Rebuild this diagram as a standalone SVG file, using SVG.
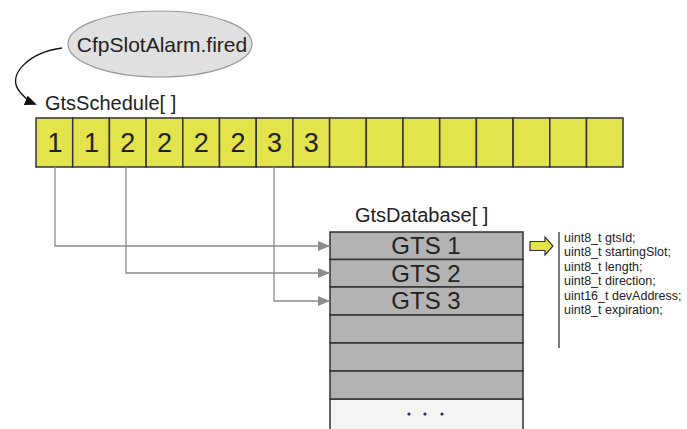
<svg xmlns="http://www.w3.org/2000/svg" width="687" height="429" viewBox="0 0 687 429">
  <defs>
    <marker id="grayHead" viewBox="0 0 12 10" refX="12" refY="5" markerWidth="12" markerHeight="10" markerUnits="userSpaceOnUse" orient="auto">
      <path d="M0,0 L12,5 L0,10 Z" fill="#8c8c8c"/>
    </marker>
    <marker id="blackHead" viewBox="0 0 12 10" refX="10" refY="5" markerWidth="12" markerHeight="10" markerUnits="userSpaceOnUse" orient="auto">
      <path d="M0,0 L12,5 L0,10 Z" fill="#111"/>
    </marker>
  </defs>
  <style>
    text { font-family: "Liberation Sans", Arial, sans-serif; fill: #222; }
    .label { font-size: 20px; }
    .cell { fill: #e3e34b; stroke: #333; stroke-width: 1.5; }
    .num { font-size: 27px; text-anchor: middle; }
    .row { fill: #b3b3b3; stroke: #333; stroke-width: 1.5; }
    .gts { font-size: 24px; text-anchor: middle; }
    .field { font-size: 12.5px; }
    .link { fill: none; stroke: #8c8c8c; stroke-width: 1.3; }
  </style>
  <rect width="687" height="429" fill="#fff"/>

  <!-- alarm event -->
  <g id="alarm">
    <ellipse cx="160" cy="44" rx="92" ry="33" fill="#e0e0e0" stroke="#999" stroke-width="1.2"/>
    <text x="162" y="52" font-size="21" text-anchor="middle">CfpSlotAlarm.fired</text>
  </g>

  <!-- schedule array -->
  <g id="gtsSchedule">
    <text class="label" x="45" y="110">GtsSchedule[ ]</text>
    <rect class="cell" x="36" y="118" width="36.7" height="49"/>
    <rect class="cell" x="72.7" y="118" width="36.7" height="49"/>
    <rect class="cell" x="109.4" y="118" width="36.7" height="49"/>
    <rect class="cell" x="146.1" y="118" width="36.7" height="49"/>
    <rect class="cell" x="182.8" y="118" width="36.7" height="49"/>
    <rect class="cell" x="219.5" y="118" width="36.7" height="49"/>
    <rect class="cell" x="256.2" y="118" width="36.7" height="49"/>
    <rect class="cell" x="292.9" y="118" width="36.7" height="49"/>
    <rect class="cell" x="329.6" y="118" width="36.7" height="49"/>
    <rect class="cell" x="366.3" y="118" width="36.7" height="49"/>
    <rect class="cell" x="403" y="118" width="36.7" height="49"/>
    <rect class="cell" x="439.7" y="118" width="36.7" height="49"/>
    <rect class="cell" x="476.4" y="118" width="36.7" height="49"/>
    <rect class="cell" x="513.1" y="118" width="36.7" height="49"/>
    <rect class="cell" x="549.8" y="118" width="36.7" height="49"/>
    <rect class="cell" x="586.5" y="118" width="36.5" height="49"/>
    <text class="num" x="55" y="152">1</text>
    <text class="num" x="91.5" y="152">1</text>
    <text class="num" x="127.8" y="152">2</text>
    <text class="num" x="164.5" y="152">2</text>
    <text class="num" x="201.2" y="152">2</text>
    <text class="num" x="237.9" y="152">2</text>
    <text class="num" x="274.6" y="152">3</text>
    <text class="num" x="311.3" y="152">3</text>
  </g>

  <!-- database table -->
  <g id="gtsDatabase">
    <text class="label" x="355" y="222">GtsDatabase[ ]</text>
    <rect x="330" y="399" width="193" height="32" fill="#f4f4f4" stroke="#333" stroke-width="1.5"/>
    <rect class="row" x="330" y="232" width="193" height="27.5"/>
    <rect class="row" x="330" y="259.5" width="193" height="27.5"/>
    <rect class="row" x="330" y="287" width="193" height="28"/>
    <rect class="row" x="330" y="315" width="193" height="28"/>
    <rect class="row" x="330" y="343" width="193" height="28"/>
    <rect class="row" x="330" y="371" width="193" height="28"/>
    <text class="gts" x="426" y="254">GTS 1</text>
    <text class="gts" x="426" y="281.5">GTS 2</text>
    <text class="gts" x="426" y="309">GTS 3</text>
    <circle cx="409" cy="414" r="1.6" fill="#1a2a55"/>
    <circle cx="425" cy="414" r="1.6" fill="#1a2a55"/>
    <circle cx="442" cy="414" r="1.6" fill="#1a2a55"/>
  </g>

  <!-- record field list -->
  <g id="gtsFields">
    <path d="M530,241.5 H545 V237 L553,246 L545,255 V250.5 H530 Z" fill="#e3e34b" stroke="#333" stroke-width="1.2"/>
    <line x1="559" y1="232" x2="559" y2="348" stroke="#222" stroke-width="1.2"/>
    <text class="field" x="564" y="241.5">uint8_t gtsId;</text>
    <text class="field" x="564" y="256">uint8_t startingSlot;</text>
    <text class="field" x="564" y="270.5">uint8_t length;</text>
    <text class="field" x="564" y="285">uint8_t direction;</text>
    <text class="field" x="564" y="299.5">uint16_t devAddress;</text>
    <text class="field" x="564" y="314">uint8_t expiration;</text>
  </g>

  <!-- connectors -->
  <g id="connectors">
    <path d="M62,48 C30,52 5,75 20,92 C25,98 30,102 35,104" fill="none" stroke="#111" stroke-width="1.3" marker-end="url(#blackHead)"/>
    <path class="link" d="M55,167 V246 H330" marker-end="url(#grayHead)"/>
    <path class="link" d="M126,167 V273 H330" marker-end="url(#grayHead)"/>
    <path class="link" d="M274,167 V301 H330" marker-end="url(#grayHead)"/>
  </g>
</svg>
